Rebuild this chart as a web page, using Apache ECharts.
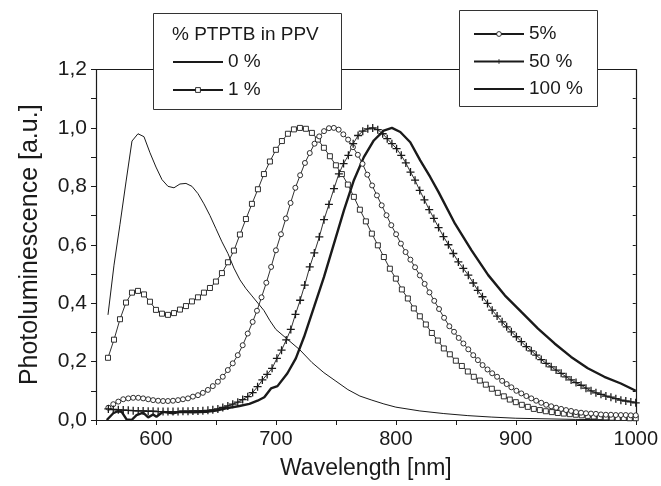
<!DOCTYPE html>
<html>
<head>
<meta charset="utf-8">
<title>PL PTPTB in PPV</title>
<script src="https://cdn.jsdelivr.net/npm/echarts@6.0.0/dist/echarts.min.js"></script>
<style>
  html, body { margin: 0; padding: 0; background: #fff; }
  #main { width: 661px; height: 486px; }
</style>
</head>
<body>
<div id="main"></div>
<script>
// 0 % PTPTB (thin line, no marker)
var wl0 = [560,565,570,575,580,585,590,595,600,605,610,615,620,625,630,635,640,645,650,655,660,665,670,675,680,685,690,695,700,710,720,730,740,750,760,770,780,790,800,820,840,860,880,900,950,1000];
var pl0 = [0.36,0.53,0.67,0.815,0.955,0.98,0.97,0.915,0.866,0.823,0.80,0.795,0.808,0.81,0.80,0.775,0.74,0.70,0.655,0.61,0.57,0.52,0.48,0.45,0.425,0.40,0.375,0.34,0.31,0.275,0.24,0.197,0.162,0.133,0.104,0.082,0.068,0.055,0.044,0.031,0.022,0.015,0.01,0.006,0.002,0];

// 1 % (squares, every 5 nm)
var wl1 = [];
for (var w = 560; w <= 1000; w += 5) wl1.push(w);
var pl1 = [0.213,0.275,0.345,0.402,0.436,0.442,0.43,0.405,0.377,0.364,0.36,0.366,0.378,0.39,0.406,0.42,0.436,0.452,0.474,0.503,
  0.54,0.58,0.635,0.688,0.74,0.79,0.842,0.885,0.925,0.955,0.98,0.995,1.0,0.997,0.983,0.96,0.932,0.903,0.872,0.842,
  0.806,0.764,0.72,0.68,0.638,0.598,0.558,0.518,0.484,0.447,0.416,0.382,0.355,0.327,0.298,0.272,0.245,0.225,0.203,0.185,
  0.166,0.148,0.135,0.121,0.107,0.093,0.081,0.07,0.061,0.052,0.045,0.038,0.034,0.03,0.027,0.024,0.022,0.02,0.018,0.016,
  0.014,0.012,0.01,0.009,0.008,0.007,0.007,0.006,0.006];

// 5 % (circles)
var wl5 = [560.3,564.4,568.6,572.7,576.9,581,585.2,589.3,593.5,597.6,601.8,605.9,610,614.2,618.4,622.5,626.7,630.8,635,639.1,
  643.3,647.4,651.6,655.7,659.9,664,668.2,672.3,676.5,680.6,684.2,688,692,696,700,704.2,708.3,712.2,716.2,720.2,
  724.2,728.2,732.2,736.1,740.1,744.2,748.3,752.3,756.2,760.2,764.2,768.3,772.2,776.2,780.2,784.2,788.2,792.2,796.2,800.2,
  804.2,808.1,812.1,816,820,824,828,832,836,840.2,844.6,848.5,852.4,856.3,860.4,864.5,868.4,872.3,876.4,880.3,
  884.4,888.6,892.4,896.3,900.5,904.6,908.8,912.9,917,921.2,925.3,929.5,933.6,937.8,941.9,946.1,950.2,954.4,958.5,962.7,
  966.8,971,975.1,979.3,983.4,987.6,991.7,995.9,1000];
var pl5 = [0.042,0.054,0.063,0.071,0.074,0.076,0.076,0.074,0.071,0.068,0.066,0.065,0.065,0.066,0.068,0.071,0.074,0.08,0.085,0.093,
  0.103,0.116,0.131,0.148,0.171,0.194,0.222,0.256,0.296,0.336,0.374,0.42,0.47,0.524,0.581,0.636,0.69,0.743,0.795,0.838,
  0.88,0.914,0.946,0.971,0.989,0.999,1.0,0.994,0.978,0.96,0.934,0.908,0.877,0.84,0.803,0.769,0.735,0.701,0.667,0.636,
  0.604,0.575,0.549,0.523,0.495,0.466,0.437,0.408,0.38,0.35,0.321,0.302,0.281,0.262,0.242,0.222,0.205,0.188,0.173,0.16,
  0.148,0.134,0.123,0.112,0.1,0.091,0.082,0.074,0.066,0.059,0.052,0.047,0.042,0.038,0.034,0.031,0.027,0.025,0.023,0.022,
  0.021,0.019,0.018,0.018,0.017,0.017,0.017,0.016,0.016];

// 50 % (crosses)
var wl50 = [560.3,564.4,568.6,572.7,576.9,581,585.2,589.3,593.5,597.6,601.8,605.9,610,614.2,618.4,622.5,626.7,630.8,635,639.1,
  643.3,647.4,651.6,655.7,659.9,664,668.2,672.3,676.5,680.6,684.7,688.7,692.7,696.8,700.8,704.7,708.6,712.4,716.3,720.2,
  724,728.2,732,736.2,740.1,744.2,748.4,752.5,756.4,760.4,764.4,768.5,772.4,776.6,780.7,784.9,789,792.8,796.7,800.6,
  804.5,808.3,812.2,816,819.9,823.8,827.8,831.7,835.6,839.7,843.8,847.9,852.1,856.2,860.4,864.5,868.3,872.2,876.4,880.3,
  884.4,888.6,892.4,896.3,900.5,904.6,908.8,912.9,917,921.2,925.3,929.5,933.6,937.8,941.9,946.1,950.2,954.4,958.5,962.7,
  966.8,971,975.1,979.3,983.4,987.6,991.7,995.9,1000];
var pl50 = [0.038,0.036,0.035,0.034,0.033,0.032,0.031,0.031,0.03,0.03,0.029,0.029,0.029,0.029,0.029,0.03,0.03,0.031,0.031,0.032,
  0.033,0.035,0.038,0.043,0.048,0.054,0.061,0.07,0.08,0.094,0.114,0.137,0.156,0.177,0.211,0.239,0.274,0.31,0.362,0.41,
  0.462,0.524,0.572,0.627,0.686,0.738,0.792,0.843,0.878,0.906,0.946,0.974,0.989,0.997,1.0,0.994,0.98,0.963,0.946,0.929,
  0.906,0.88,0.849,0.821,0.786,0.754,0.72,0.69,0.659,0.628,0.6,0.57,0.541,0.519,0.496,0.469,0.444,0.422,0.399,0.376,
  0.356,0.336,0.319,0.302,0.285,0.268,0.251,0.237,0.222,0.207,0.194,0.182,0.171,0.16,0.148,0.137,0.128,0.119,0.109,0.1,
  0.093,0.088,0.082,0.078,0.073,0.068,0.065,0.062,0.059];

// 100 % (thick line)
var wl100 = [559,564.4,568,571.4,575.5,579.7,583.8,589.3,593.5,597.6,600.4,605.9,614.2,619.8,630.8,641.9,650.2,658.5,669.6,677.9,
  684.7,690.3,695.9,701.3,709.6,716.6,723.5,731.8,740.1,748.4,756.7,765,773.3,781.6,789.9,796.7,803.7,812,820.3,828.6,
  835.5,849.3,863.1,877,890.8,904.6,918.5,932.3,946.1,960,973.8,987.6,1000];
var pl100 = [0,0.023,0.03,0.028,0.002,0,0.017,0.025,0.009,0.019,0.011,0.028,0.023,0.028,0.026,0.028,0.032,0.04,0.048,0.055,
  0.066,0.078,0.108,0.116,0.16,0.211,0.285,0.387,0.49,0.604,0.718,0.821,0.9,0.957,0.991,1.0,0.986,0.951,0.889,0.832,
  0.781,0.672,0.581,0.496,0.427,0.37,0.313,0.262,0.216,0.177,0.148,0.125,0.1];

var FONT = '"Liberation Sans", Arial, Helvetica, sans-serif';
var INK = '#1a1a1a';
var PLUS = 'path://M0,4.2H10V5.8H0Z M4.2,0H5.8V10H4.2Z';

/**
 * 把两列数组拼成 [x, y] 点
 */
function pairs(xs, ys) {
	var res = [];
	for (var i = 0; i < xs.length; i++) {
		res.push([xs[i], ys[i]]);
	}
	return res;
}

/**
 * 一条曲线：symbol 为 'none' 时只画线（图例里也不画点）
 */
function lineSeries(name, xs, ys, symbol, size, width) {
	var noMark = symbol === 'none';
	var itemStyle;
	if (noMark) {
		itemStyle = { color: INK, opacity: 0 };
	} else if (symbol === PLUS) {
		itemStyle = { color: INK, borderWidth: 0 };
	} else {
		// 空心方块 / 圆圈
		itemStyle = { color: '#fff', borderColor: INK, borderWidth: 0.9 };
	}
	return {
		name: name,
		type: 'line',
		data: pairs(xs, ys),
		symbol: symbol,
		symbolSize: size,
		showSymbol: !noMark,
		showAllSymbol: true,
		smooth: false,
		lineStyle: { color: INK, width: width, opacity: 1 },
		itemStyle: itemStyle,
		emphasis: { disabled: true },
		animation: false
	};
}

var myChart = echarts.init(document.getElementById('main'));

var legendText = { fontFamily: FONT, fontSize: 19, color: INK, lineHeight: 19 };
var legendItem = { borderWidth: 0.9 };

var option = {
	animation: false,
	backgroundColor: '#fff',
	grid: { left: 96, right: 23, top: 69.5, bottom: 66, containLabel: false },
	xAxis: [{
		type: 'value',
		min: 550, max: 1000, interval: 50,
		position: 'bottom',
		name: 'Wavelength [nm]',
		nameLocation: 'middle',
		nameGap: 37,
		nameTextStyle: { fontFamily: FONT, fontSize: 23, color: INK },
		axisLine: { lineStyle: { color: INK, width: 1.2 } },
		axisTick: { length: 5, lineStyle: { color: INK } },
		axisLabel: {
			margin: 9, fontFamily: FONT, fontSize: 20, color: INK,
			formatter: function (v) { return v % 100 === 0 ? String(v) : ''; }
		},
		splitLine: { show: false }
	}, {
		type: 'value',
		min: 550, max: 1000, interval: 50,
		position: 'top',
		axisLine: { onZero: false, lineStyle: { color: INK, width: 1.2 } },
		axisTick: { show: false },
		axisLabel: { show: false },
		splitLine: { show: false }
	}],
	yAxis: [{
		type: 'value',
		min: 0, max: 1.2, interval: 0.1,
		position: 'left',
		name: 'Photoluminescence [a.u.]',
		nameLocation: 'middle',
		nameGap: 53,
		nameTextStyle: { fontFamily: FONT, fontSize: 25, color: INK },
		axisLine: { show: true, lineStyle: { color: INK, width: 1.2 } },
		axisTick: { show: true, length: 5, lineStyle: { color: INK } },
		axisLabel: {
			margin: 9, fontFamily: FONT, fontSize: 21, color: INK,
			formatter: function (v) {
				var t = Math.round(v * 10);
				return t % 2 === 0 ? (t / 10).toFixed(1).replace('.', ',') : '';
			}
		},
		splitLine: { show: false }
	}, {
		type: 'value',
		min: 0, max: 1.2, interval: 0.1,
		position: 'right',
		axisLine: { show: true, onZero: false, lineStyle: { color: INK, width: 1.2 } },
		axisTick: { show: true, inside: true, length: 3, lineStyle: { color: INK } },
		axisLabel: { show: false },
		splitLine: { show: false }
	}],
	graphic: [
		{ type: 'rect', z: 3, shape: { x: 153.5, y: 13.5, width: 188, height: 96 },
		  style: { fill: '#fff', stroke: '#333', lineWidth: 1 } },
		{ type: 'rect', z: 3, shape: { x: 459.5, y: 10.5, width: 138, height: 96 },
		  style: { fill: '#fff', stroke: '#333', lineWidth: 1 } },
		{ type: 'text', z: 5, left: 172, top: 25,
		  style: { text: '% PTPTB in PPV', fontFamily: FONT, fontSize: 19, fill: INK } }
	],
	legend: [{
		data: ['0 %', '1 %'],
		orient: 'vertical',
		left: 172, top: 52.5,
		itemWidth: 50, itemHeight: 6, itemGap: 9,
		padding: 0,
		selectedMode: false,
		itemStyle: legendItem,
		textStyle: legendText
	}, {
		data: ['5%', '50 %', '100 %'],
		orient: 'vertical',
		left: 473, top: 24.5,
		itemWidth: 50, itemHeight: 6, itemGap: 8.5,
		padding: 0,
		selectedMode: false,
		itemStyle: legendItem,
		textStyle: legendText
	}],
	series: [
		lineSeries('0 %', wl0, pl0, 'none', 0, 1),
		lineSeries('1 %', wl1, pl1, 'rect', 5, 0.9),
		lineSeries('5%', wl5, pl5, 'circle', 5, 0.9),
		lineSeries('50 %', wl50, pl50, PLUS, 8, 0.9),
		lineSeries('100 %', wl100, pl100, 'none', 0, 2.4)
	]
};

myChart.setOption(option);
</script>
</body>
</html>
